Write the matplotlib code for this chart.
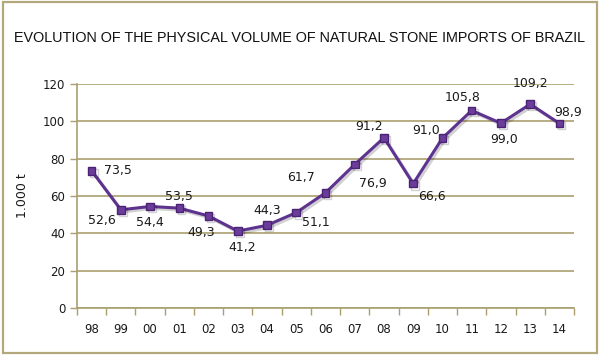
import matplotlib.pyplot as plt
import matplotlib.patheffects as pe
from matplotlib.patches import Rectangle

years = ['98', '99', '00', '01', '02', '03', '04', '05', '06',
         '07', '08', '09', '10', '11', '12', '13', '14']
volume = [73.5, 52.6, 54.4, 53.5, 49.3, 41.2, 44.3, 51.1, 61.7,
          76.9, 91.2, 66.6, 91.0, 105.8, 99.0, 109.2, 98.9]
value_labels = ['73,5', '52,6', '54,4', '53,5', '49,3', '41,2', '44,3', '51,1', '61,7',
                '76,9', '91,2', '66,6', '91,0', '105,8', '99,0', '109,2', '98,9']
# label offsets in pixels (x right, y up)
label_offsets = [(26, 0), (-19, -11), (0, -16), (0, 12), (-7, -17), (4, -16),
                 (0, 15), (20, -10), (-24, 15), (18, -19), (-15, 11), (19, -13),
                 (-16, 8), (-9, 13), (3, -16), (0, 21), (9, 11)]

olive = '#aa9f6e'
purple = '#5e3390'

plt.rcParams['font.family'] = ['DejaVu Sans']
fig = plt.figure(figsize=(6, 3.57), dpi=100)
ax = fig.add_axes([77 / 600, 1 - 308 / 357, (574 - 77) / 600, (308 - 84) / 357])

x = list(range(len(years)))
ax.plot(x, volume, color=purple, lw=2.2, marker='s', ms=5.5,
        markerfacecolor='#6a3d9a', markeredgecolor='#4a2375', zorder=3,
        path_effects=[pe.SimpleLineShadow(offset=(1.5, -1.5), alpha=0.18, rho=0.3), pe.Normal()])

for i in x:
    ax.annotate(value_labels[i], (i, volume[i]), textcoords='offset pixels',
                xytext=label_offsets[i], ha='center', va='center',
                fontsize=9, color='#1a1a1a')

ax.set_xlim(-0.5, len(years) - 0.5)
ax.set_ylim(0, 120)
ax.set_yticks(range(0, 121, 20))
ax.set_xticks(x)
ax.set_xticklabels(years)
ax.set_xticks([i - 0.5 for i in range(len(years) + 1)], minor=True)
ax.tick_params(axis='x', which='major', length=0, pad=11, labelsize=8.5)
ax.tick_params(axis='x', which='minor', length=5, color=olive, width=1)
ax.tick_params(axis='y', length=5, color=olive, width=1, labelsize=8.5)
for t in ax.get_xticklabels() + ax.get_yticklabels():
    t.set_color('#1a1a1a')
ax.yaxis.grid(True, color=olive, lw=1.2)
ax.set_axisbelow(True)
for s in ['top', 'right']:
    ax.spines[s].set_visible(False)
ax.spines['left'].set_color(olive)
ax.spines['bottom'].set_color(olive)
ax.spines['left'].set_linewidth(1.2)
ax.spines['bottom'].set_linewidth(1.2)

ax.set_ylabel('1.000 t', fontsize=9, labelpad=10, color='#1a1a1a')

fig.text(0.5, 1 - 38 / 357, 'EVOLUTION OF THE PHYSICAL VOLUME OF NATURAL STONE IMPORTS OF BRAZIL',
         ha='center', va='center', fontsize=10.4, family='Liberation Sans', color='#111111')

fig.patches.append(Rectangle((3 / 600, 1 - 353 / 357), 594 / 600, 351 / 357,
                             transform=fig.transFigure, fill=False,
                             edgecolor='#b3a87c', lw=1.6))

plt.savefig('out.png', dpi=100)
